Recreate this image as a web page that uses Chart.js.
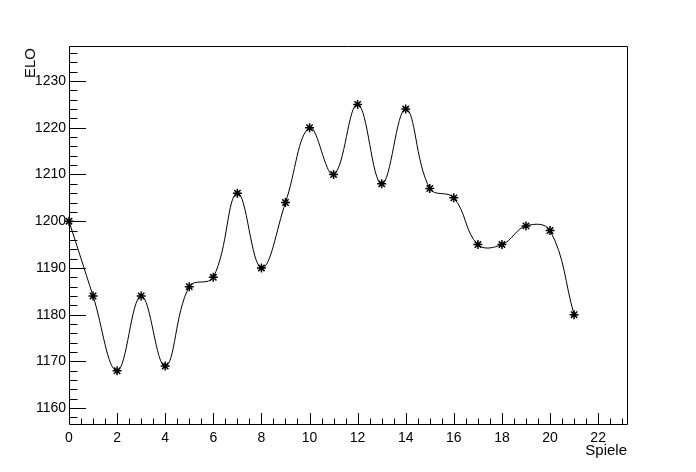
<!DOCTYPE html>
<html>
<head>
<meta charset="utf-8">
<script src="https://cdn.jsdelivr.net/npm/chart.js@4.4.1/dist/chart.umd.min.js"></script>
<style>
html,body{margin:0;padding:0;background:#fff;}
#wrap{width:696px;height:472px;position:relative;}
</style>
</head>
<body>
<div id="wrap"><canvas id="c" width="696" height="472"></canvas></div>
<script>
const games = [0,1,2,3,4,5,6,7,8,9,10,11,12,13,14,15,16,17,18,19,20,21];
const elo = [1200,1184,1168,1184,1169,1186,1188,1206,1190,1204,1220,1210,1225,1208,1224,1207,1205,1195,1195,1199,1198,1180];
const xTickLabels = [0,2,4,6,8,10,12,14,16,18,20,22];
const yTickLabels = [1160,1170,1180,1190,1200,1210,1220,1230];
const xTitle = 'Spiele';
const yTitle = 'ELO';

const FONT = 'Liberation Sans, Arial, Helvetica, sans-serif';

const rootAxes = {
  id: 'rootAxes',
  afterDraw(chart) {
    const ctx = chart.ctx;
    const a = chart.chartArea;
    const xs = chart.scales.x, ys = chart.scales.y;
    ctx.save();
    ctx.strokeStyle = '#000';
    ctx.lineWidth = 1;
    ctx.beginPath();
    ctx.rect(Math.round(a.left)+0.5, Math.round(a.top)+0.5, Math.round(a.right-a.left), Math.round(a.bottom-a.top));
    ctx.stroke();
    // x ticks
    ctx.beginPath();
    for (let v = 0; v <= xs.max + 1e-9; v += 0.5) {
      const px = Math.round(xs.getPixelForValue(v)) + 0.5;
      const major = Math.abs(v/2 - Math.round(v/2)) < 1e-9;
      const len = major ? 11 : 5.5;
      ctx.moveTo(px, a.bottom);
      ctx.lineTo(px, a.bottom - len);
    }
    // y ticks
    for (let v = 1158; v <= ys.max + 1e-9; v += 2) {
      const py = Math.round(ys.getPixelForValue(v)) + 0.5;
      const major = v % 10 === 0;
      const len = major ? 17 : 8.5;
      ctx.moveTo(a.left, py);
      ctx.lineTo(a.left + len, py);
    }
    ctx.stroke();
    // titles
    ctx.fillStyle = '#000';
    ctx.font = '15px ' + FONT;
    ctx.textAlign = 'right';
    ctx.textBaseline = 'middle';
    ctx.fillText(xTitle, a.right, 451);
    ctx.save();
    ctx.translate(31, a.top + 2);
    ctx.rotate(-Math.PI/2);
    ctx.textAlign = 'right';
    ctx.fillText(yTitle, 0, 0);
    ctx.restore();
    ctx.restore();
  }
};

new Chart(document.getElementById('c'), {
  type: 'line',
  data: {
    datasets: [{
      data: games.map((g,i)=>({x:g, y:elo[i]})),
      borderColor: '#000',
      borderWidth: 1,
      tension: 0.4,
      fill: false,
      pointStyle: 'star',
      pointRadius: 4.5,
      pointBorderWidth: 1.5,
      pointBorderColor: '#000',
      pointBackgroundColor: '#000',
      clip: false
    }]
  },
  options: {
    responsive: false,
    animation: false,
    devicePixelRatio: 1,
    layout: { padding: { left: 0, right: 69, top: 46, bottom: 0 } },
    plugins: { legend: { display: false }, tooltip: { enabled: false } },
    scales: {
      x: {
        type: 'linear',
        min: 0, max: 23.2,
        border: { display: false },
        grid: { display: false, drawTicks: false },
        afterBuildTicks: s => { s.ticks = xTickLabels.map(v=>({value:v})); },
        afterFit: s => { s.height = 48; },
        ticks: { color: '#000', font: { family: FONT, size: 14 }, padding: 6, maxRotation: 0, autoSkip: false,
                 callback: v => String(v) }
      },
      y: {
        type: 'linear',
        min: 1156.6, max: 1237.5,
        border: { display: false },
        grid: { display: false, drawTicks: false },
        afterBuildTicks: s => { s.ticks = yTickLabels.map(v=>({value:v})); },
        afterFit: s => { s.width = 69; },
        ticks: { color: '#000', font: { family: FONT, size: 14 }, padding: 3, autoSkip: false,
                 callback: v => String(v) }
      }
    }
  },
  plugins: [rootAxes]
});
</script>
</body>
</html>
